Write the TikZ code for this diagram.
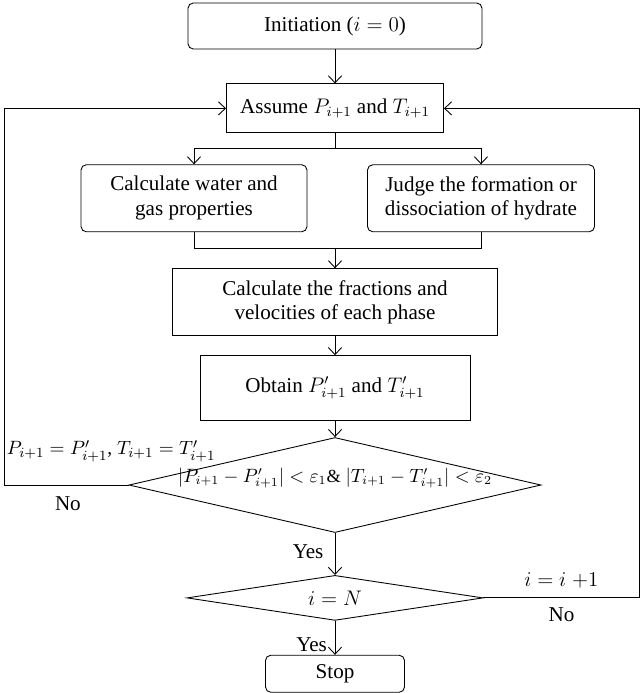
\documentclass[tikz,border=0pt]{standalone}
\usepackage{fontspec}
\setmainfont{Liberation Serif}
\usetikzlibrary{arrows.meta,shapes.geometric,positioning}

\begin{document}
\begin{tikzpicture}[>={Straight Barb[length=4pt,width=7.5pt]},line width=0.5pt,
    font=\fontsize{12}{14}\selectfont]
      \tikzstyle{rbox}=[rectangle,draw,rounded corners=3pt,align=center,inner sep=2pt]
      \tikzstyle{box}=[rectangle,draw,align=center,inner sep=2pt]
      \tikzstyle{decide}=[diamond,draw,inner sep=0pt,align=center]
      \useasboundingbox (0,0) rectangle (12.8,-13.86);
      \node[rbox,minimum width=5.88cm,minimum height=0.92cm](init) at (6.70,-0.52){Initiation ($i=0$)};
      \node[box,below=0.68cm of init,minimum width=4.34cm,minimum height=0.98cm](assume){Assume $P_{i+1}$ and $T_{i+1}$};
      \node[rbox,below=0.62cm of assume,xshift=-2.82cm,minimum width=4.52cm,minimum height=1.34cm](water){Calculate water and\\gas properties};
      \node[rbox,below=0.62cm of assume,xshift=2.92cm,minimum width=4.54cm,minimum height=1.34cm](judge){Judge the formation or\\dissociation of hydrate};
      \node[box,below=2.70cm of assume,minimum width=6.50cm,minimum height=1.34cm](frac){Calculate the fractions and\\velocities of each phase};
      \node[box,below=0.38cm of frac,minimum width=5.40cm,minimum height=1.30cm](obtain){Obtain $P'_{i+1}$ and $T'_{i+1}$};
      % the convergence test: diamond drawn empty, its condition set on top
      \node[decide,below=0.32cm of obtain,minimum width=8.24cm,minimum height=1.90cm](check){};
      \node[inner sep=0pt,font=\fontsize{10.5}{12}\selectfont](cond) at ([yshift=4pt]check.center)
        {$|P_{i+1}-P'_{i+1}|<\varepsilon_1$\& $|T_{i+1}-T'_{i+1}|<\varepsilon_2$};
      \node[decide,below=0.84cm of check,aspect=6.6,minimum width=5.92cm,minimum height=0.90cm](isN){$i=N$};
      \node[rbox,below=0.68cm of isN,minimum width=2.78cm,minimum height=0.74cm](stop){Stop};
      % main line
      \draw[->](init.south)--(assume.north);
      \draw[->](assume.south)--++(0,-0.30)-|(water.north);
      \draw[->](assume.south)--++(0,-0.30)-|(judge.north);
      \draw(water.south)--++(0,-0.32)coordinate(merge)-|(judge.south);
      \draw[->](frac.north|-merge)--(frac.north);
      \draw[->](frac.south)--(obtain.north);
      \draw[->](obtain.south)--(check.north);
      \draw[->](check.south)--(isN.north) node[left,pos=.45,xshift=-3pt](yes1){Yes};
      \draw[->](isN.south)--(stop.north) node[left,pos=.7,xshift=-1pt](yes2){Yes};
      % loops back to the guess
      \draw[->](check.west)--++(-2.48,0)coordinate(cornerL)|-(assume.west);
      \node[above right=0.46cm and 0.04cm of cornerL,inner sep=0pt,font=\fontsize{11}{13}\selectfont](update){$P_{i+1}=P'_{i+1}$, $T_{i+1}=T'_{i+1}$};
      \node[below right=0.22cm and 1.0cm of cornerL,inner sep=0pt](no1){No};
      \draw[->](isN.east)--++(3.12,0) node[midway,above,yshift=2pt](incr){$i=i\;{+}1$}
        node[midway,below,yshift=-2pt](no2){No} coordinate(cornerR)|-(assume.east);
    \end{tikzpicture}
\end{document}
